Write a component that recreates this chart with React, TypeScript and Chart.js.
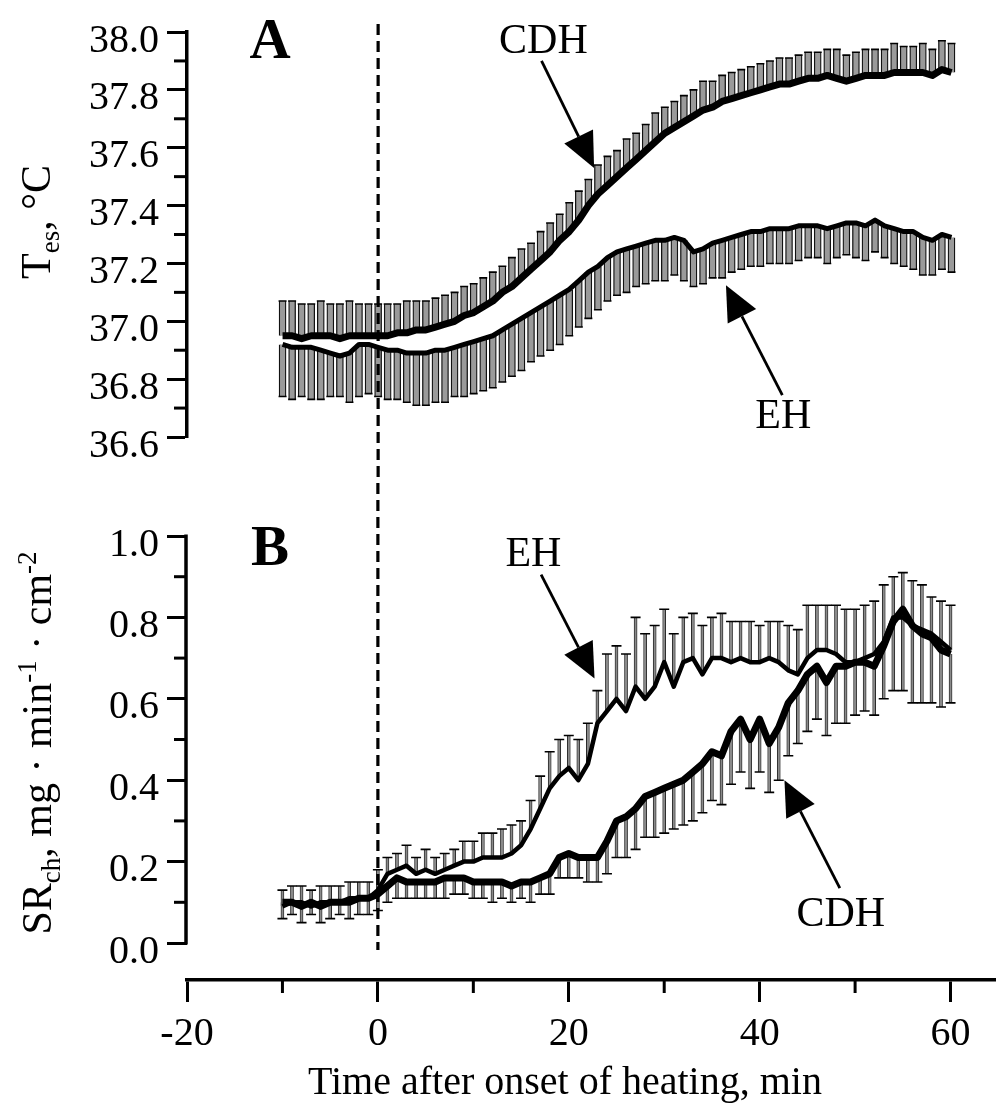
import React, { useEffect, useRef } from "react";
import { Chart, registerables } from "chart.js";

Chart.register(...registerables);

// ---------- data ----------
const TIME = [
  -10, -9, -8, -7, -6, -5, -4, -3, -2, -1,
  0, 1, 2, 3, 4, 5, 6, 7, 8, 9, 10,
  11, 12, 13, 14, 15, 16, 17, 18, 19, 20,
  21, 22, 23, 24, 25, 26, 27, 28, 29, 30,
  31, 32, 33, 34, 35, 36, 37, 38, 39, 40,
  41, 42, 43, 44, 45, 46, 47, 48, 49, 50,
  51, 52, 53, 54, 55, 56, 57, 58, 59, 60,
];

// Panel A: esophageal temperature (°C)
const TES_CDH = [
  36.95, 36.95, 36.94, 36.95, 36.95, 36.95, 36.94, 36.95, 36.95, 36.95,
  36.95, 36.95, 36.96, 36.96, 36.97, 36.97, 36.98, 36.99, 37.0, 37.02, 37.03,
  37.05, 37.07, 37.1, 37.12, 37.15, 37.18, 37.21, 37.24, 37.28, 37.31,
  37.35, 37.4, 37.44, 37.47, 37.5, 37.53, 37.56, 37.59, 37.62, 37.65,
  37.67, 37.69, 37.71, 37.73, 37.74, 37.76, 37.77, 37.78, 37.79, 37.8,
  37.81, 37.82, 37.82, 37.83, 37.84, 37.84, 37.85, 37.84, 37.83, 37.84,
  37.85, 37.85, 37.85, 37.86, 37.86, 37.86, 37.86, 37.85, 37.87, 37.86,
];
const TES_CDH_SE = [
  0.12, 0.12, 0.12, 0.11, 0.12, 0.11, 0.12, 0.12, 0.11, 0.11,
  0.11, 0.11, 0.1, 0.11, 0.1, 0.1, 0.1, 0.1, 0.1, 0.1, 0.1,
  0.1, 0.1, 0.09, 0.1, 0.1, 0.09, 0.1, 0.1, 0.09, 0.1,
  0.1, 0.09, 0.1, 0.1, 0.09, 0.1, 0.09, 0.09, 0.1, 0.09,
  0.09, 0.09, 0.09, 0.1, 0.09, 0.09, 0.09, 0.09, 0.09, 0.09,
  0.09, 0.09, 0.09, 0.09, 0.09, 0.09, 0.09, 0.1, 0.09, 0.09,
  0.09, 0.09, 0.09, 0.1, 0.09, 0.09, 0.1, 0.09, 0.1, 0.1,
];
const TES_EH = [
  36.92, 36.91, 36.91, 36.91, 36.9, 36.89, 36.88, 36.89, 36.92, 36.92,
  36.91, 36.9, 36.9, 36.89, 36.89, 36.89, 36.9, 36.9, 36.91, 36.92, 36.93,
  36.94, 36.95, 36.97, 36.99, 37.01, 37.03, 37.05, 37.07, 37.09, 37.11,
  37.14, 37.17, 37.19, 37.22, 37.24, 37.25, 37.26, 37.27, 37.28, 37.28,
  37.29, 37.28, 37.24, 37.25, 37.27, 37.28, 37.29, 37.3, 37.31, 37.31,
  37.32, 37.32, 37.32, 37.33, 37.33, 37.33, 37.32, 37.33, 37.34, 37.34,
  37.33, 37.35, 37.33, 37.32, 37.31, 37.31, 37.29, 37.28, 37.3, 37.29,
];
const TES_EH_SE = [
  0.18, 0.18, 0.17, 0.18, 0.17, 0.15, 0.14, 0.17, 0.18, 0.17,
  0.17, 0.17, 0.17, 0.17, 0.18, 0.18, 0.18, 0.18, 0.17, 0.18, 0.18,
  0.18, 0.18, 0.18, 0.18, 0.18, 0.17, 0.17, 0.17, 0.17, 0.16,
  0.16, 0.16, 0.15, 0.15, 0.15, 0.15, 0.14, 0.14, 0.14, 0.14,
  0.13, 0.14, 0.12, 0.12, 0.12, 0.13, 0.12, 0.12, 0.12, 0.12,
  0.12, 0.12, 0.12, 0.12, 0.11, 0.11, 0.12, 0.11, 0.11, 0.12,
  0.12, 0.11, 0.11, 0.12, 0.12, 0.13, 0.13, 0.12, 0.12, 0.12,
];

// Panel B: chest sweat rate (mg·min-1·cm-2)
const SR_EH = [
  0.09, 0.1, 0.1, 0.09, 0.1, 0.1, 0.1, 0.11, 0.11, 0.11,
  0.13, 0.17, 0.18, 0.19, 0.17, 0.18, 0.17, 0.18, 0.19, 0.2, 0.2,
  0.21, 0.21, 0.21, 0.22, 0.24, 0.28, 0.33, 0.38, 0.41, 0.43,
  0.4, 0.44, 0.54, 0.57, 0.6, 0.57, 0.63, 0.6, 0.63, 0.69,
  0.63, 0.69, 0.7, 0.66, 0.7, 0.7, 0.69, 0.7, 0.69, 0.69,
  0.7, 0.69, 0.67, 0.66, 0.7, 0.72, 0.72, 0.71, 0.69, 0.69,
  0.7, 0.71, 0.74, 0.8, 0.8, 0.78, 0.77, 0.76, 0.74, 0.72,
];
const SR_EH_SE = [
  0.04, 0.04, 0.04, 0.04, 0.04, 0.04, 0.04, 0.04, 0.04, 0.04,
  0.05, 0.04, 0.04, 0.05, 0.04, 0.05, 0.04, 0.04, 0.04, 0.05, 0.05,
  0.06, 0.06, 0.07, 0.07, 0.06, 0.07, 0.08, 0.09, 0.09, 0.08,
  0.1, 0.1, 0.08, 0.14, 0.13, 0.14, 0.17, 0.16, 0.15, 0.13,
  0.13, 0.11, 0.11, 0.12, 0.1, 0.11, 0.1, 0.09, 0.1, 0.09,
  0.09, 0.1, 0.11, 0.11, 0.13, 0.11, 0.11, 0.12, 0.13, 0.13,
  0.13, 0.13, 0.14, 0.1, 0.11, 0.11, 0.11, 0.09, 0.1, 0.11,
];
const SR_CDH = [
  0.1, 0.1, 0.09, 0.1, 0.09, 0.1, 0.1, 0.1, 0.11, 0.11,
  0.12, 0.14, 0.16, 0.15, 0.15, 0.15, 0.15, 0.16, 0.16, 0.16, 0.15,
  0.15, 0.15, 0.15, 0.14, 0.15, 0.15, 0.16, 0.17, 0.21, 0.22,
  0.21, 0.21, 0.21, 0.25, 0.3, 0.31, 0.33, 0.36, 0.37, 0.38,
  0.39, 0.4, 0.42, 0.44, 0.47, 0.46, 0.52, 0.55, 0.5, 0.55,
  0.49, 0.53, 0.59, 0.62, 0.66, 0.68, 0.64, 0.68, 0.68, 0.69,
  0.69, 0.68, 0.73, 0.79, 0.82, 0.78, 0.76, 0.75, 0.72, 0.71,
];
const SR_CDH_SE = [
  0.04, 0.03, 0.04, 0.03, 0.04, 0.04, 0.03, 0.04, 0.04, 0.04,
  0.04, 0.04, 0.05, 0.04, 0.04, 0.04, 0.04, 0.05, 0.04, 0.04, 0.04,
  0.04, 0.05, 0.04, 0.04, 0.04, 0.05, 0.04, 0.05, 0.05, 0.06,
  0.05, 0.06, 0.06, 0.08, 0.09, 0.1, 0.1, 0.1, 0.11, 0.11,
  0.11, 0.11, 0.12, 0.12, 0.12, 0.12, 0.13, 0.13, 0.12, 0.13,
  0.12, 0.13, 0.13, 0.13, 0.14, 0.13, 0.13, 0.14, 0.14, 0.13,
  0.12, 0.12, 0.13, 0.17, 0.2, 0.19, 0.17, 0.16, 0.14, 0.12,
];

// ticks
const X_TICKS = [-20, 0, 20, 40, 60];
const X_MINOR = [-10, 10, 30, 50];
const TES_TICKS = [36.6, 36.8, 37.0, 37.2, 37.4, 37.6, 37.8, 38.0];
const TES_MINOR = [36.7, 36.9, 37.1, 37.3, 37.5, 37.7, 37.9];
const SR_TICKS = [0.0, 0.2, 0.4, 0.6, 0.8, 1.0];
const SR_MINOR = [0.1, 0.3, 0.5, 0.7, 0.9];

// ---------- layout ----------
const W = 1002;
const TOP_H = 480;
const BOT_H = 634;
const X_MIN = -20;
const X_MAX = 64.7;
const FONT = '"Liberation Serif", "Times New Roman", serif';

type Seg = { t: string; sub?: boolean; sup?: boolean };

function drawRich(ctx: CanvasRenderingContext2D, segs: Seg[], cx: number, cy: number, size: number) {
  ctx.save();
  ctx.translate(cx, cy);
  ctx.rotate(-Math.PI / 2);
  const small = Math.round(size * 0.64);
  let total = 0;
  const widths = segs.map((s) => {
    ctx.font = `${s.sub || s.sup ? small : size}px ${FONT}`;
    const w = ctx.measureText(s.t).width;
    total += w;
    return w;
  });
  let x = -total / 2;
  ctx.textAlign = "left";
  ctx.textBaseline = "alphabetic";
  ctx.fillStyle = "#000";
  const base = size * 0.33;
  segs.forEach((s, i) => {
    ctx.font = `${s.sub || s.sup ? small : size}px ${FONT}`;
    const dy = s.sub ? size * 0.22 : s.sup ? -size * 0.36 : 0;
    ctx.fillText(s.t, x, base + dy);
    x += widths[i];
  });
  ctx.restore();
}

function drawArrow(ctx: CanvasRenderingContext2D, x1: number, y1: number, x2: number, y2: number) {
  const headLen = 35;
  const headHalf = 16;
  const ang = Math.atan2(y2 - y1, x2 - x1);
  const bx = x2 - headLen * Math.cos(ang);
  const by = y2 - headLen * Math.sin(ang);
  ctx.save();
  ctx.strokeStyle = "#000";
  ctx.fillStyle = "#000";
  ctx.lineWidth = 2.8;
  ctx.beginPath();
  ctx.moveTo(x1, y1);
  ctx.lineTo(bx, by);
  ctx.stroke();
  ctx.beginPath();
  ctx.moveTo(x2, y2);
  ctx.lineTo(bx + headHalf * Math.sin(ang), by - headHalf * Math.cos(ang));
  ctx.lineTo(bx - headHalf * Math.sin(ang), by + headHalf * Math.cos(ang));
  ctx.closePath();
  ctx.fill();
  ctx.restore();
}

type Note = { text: string; x: number; y: number };
type Arrow = { x1: number; y1: number; x2: number; y2: number };

type DecorCfg = {
  letter: Note;
  labels: Note[];
  arrows: Arrow[];
  dashFrom: number;
  dashTo: number;
  dashOffset: number;
  yMinor: number[];
  xMinor: number[];
  yLine: [number, number] | null;
  yTitle: { segs: Seg[]; cx: number; cy: number };
  xTitle: { text: string; x: number; yPx: number } | null;
};

function makeDecor(cfg: DecorCfg) {
  return {
    id: "decor",
    afterDatasetsDraw(chart: any) {
      const ctx: CanvasRenderingContext2D = chart.ctx;
      const xs = chart.scales.x;
      const ys = chart.scales.y;
      const area = chart.chartArea;
      ctx.save();

      // dashed onset line at time 0 (drawn as short filled segments)
      const x0 = xs.getPixelForValue(0);
      ctx.fillStyle = "#000";
      for (let y = cfg.dashFrom - cfg.dashOffset; y < cfg.dashTo; y += 17) {
        const a = Math.max(y, cfg.dashFrom);
        const b = Math.min(y + 11, cfg.dashTo);
        if (b > a) ctx.fillRect(x0 - 1.6, a, 3.2, b - a);
      }

      ctx.strokeStyle = "#000";
      // custom y axis line
      if (cfg.yLine) {
        const ya = ys.getPixelForValue(cfg.yLine[1]);
        const yb = ys.getPixelForValue(cfg.yLine[0]);
        ctx.lineWidth = 3.5;
        ctx.beginPath();
        ctx.moveTo(area.left - 1, ya - 1.5);
        ctx.lineTo(area.left - 1, yb + 1.5);
        ctx.stroke();
      }

      // minor ticks
      ctx.lineWidth = 3;
      cfg.yMinor.forEach((v) => {
        const y = ys.getPixelForValue(v);
        ctx.beginPath();
        ctx.moveTo(area.left - 13, y);
        ctx.lineTo(area.left, y);
        ctx.stroke();
      });
      cfg.xMinor.forEach((v) => {
        const x = xs.getPixelForValue(v);
        ctx.beginPath();
        ctx.moveTo(x, area.bottom);
        ctx.lineTo(x, area.bottom + 13);
        ctx.stroke();
      });

      // panel letter
      ctx.fillStyle = "#000";
      ctx.textAlign = "center";
      ctx.textBaseline = "middle";
      ctx.font = `bold 57px ${FONT}`;
      ctx.fillText(cfg.letter.text, xs.getPixelForValue(cfg.letter.x), ys.getPixelForValue(cfg.letter.y));

      // annotation labels and arrows
      ctx.font = `42px ${FONT}`;
      cfg.labels.forEach((n) => {
        ctx.fillText(n.text, xs.getPixelForValue(n.x), ys.getPixelForValue(n.y));
      });
      cfg.arrows.forEach((a) => {
        drawArrow(
          ctx,
          xs.getPixelForValue(a.x1),
          ys.getPixelForValue(a.y1),
          xs.getPixelForValue(a.x2),
          ys.getPixelForValue(a.y2)
        );
      });

      // axis titles
      drawRich(ctx, cfg.yTitle.segs, cfg.yTitle.cx, cfg.yTitle.cy, 42);
      if (cfg.xTitle) {
        ctx.font = `40px ${FONT}`;
        ctx.textAlign = "center";
        ctx.textBaseline = "middle";
        ctx.fillText(cfg.xTitle.text, xs.getPixelForValue(cfg.xTitle.x), cfg.xTitle.yPx);
      }
      ctx.restore();
    },
  };
}

function pts(vals: number[]) {
  return TIME.map((t, i) => ({ x: t, y: vals[i] }));
}
function barPts(vals: number[], se: number[], dir: number) {
  return TIME.map((t, i) => ({
    x: t,
    y: dir > 0 ? [vals[i], vals[i] + se[i]] : [vals[i] - se[i], vals[i]],
  }));
}
function capPts(vals: number[], se: number[], dir: number) {
  return TIME.map((t, i) => ({ x: t, y: vals[i] + dir * se[i] }));
}

function seriesSets(
  mean: number[],
  se: number[],
  dir: number,
  lineW: number,
  barW: number,
  fill: string,
  edge: number,
  capR: number
) {
  return [
    {
      type: "line",
      data: pts(mean),
      borderColor: "#000",
      borderWidth: lineW,
      pointRadius: 0,
      tension: 0,
      borderJoinStyle: "round",
      order: 0,
    },
    {
      type: "line",
      data: capPts(mean, se, dir),
      showLine: false,
      pointStyle: "line",
      pointRadius: capR,
      pointHoverRadius: 0,
      borderColor: "#000",
      borderWidth: 1.6,
      order: 1,
    },
    {
      type: "bar",
      data: barPts(mean, se, dir),
      barThickness: barW,
      grouped: false,
      backgroundColor: fill,
      borderColor: "#111",
      borderWidth: { left: edge, right: edge, top: 0, bottom: 0 },
      borderSkipped: false,
      order: 2,
    },
  ];
}

function yScale(min: number, max: number, ticks: number[], border: boolean) {
  return {
    type: "linear",
    min,
    max,
    beginAtZero: false,
    afterBuildTicks: (s: any) => {
      s.ticks = ticks.map((v) => ({ value: v }));
    },
    afterFit: (s: any) => {
      s.width = 187;
    },
    ticks: {
      autoSkip: false,
      color: "#000",
      font: { family: FONT, size: 40 },
      padding: 8,
      labelOffset: 9,
      callback: (v: any) => Number(v).toFixed(1),
    },
    grid: {
      display: true,
      offset: false,
      drawOnChartArea: false,
      drawTicks: true,
      tickLength: 20,
      tickWidth: 3,
      tickColor: "#000",
    },
    border: { display: border, color: "#000", width: 3.5 },
  };
}

function topConfig(): any {
  return {
    type: "line",
    data: {
      datasets: [
        ...seriesSets(TES_CDH, TES_CDH_SE, 1, 7, 7, "#9a9a9a", 1.3, 4),
        ...seriesSets(TES_EH, TES_EH_SE, -1, 5, 7, "#9a9a9a", 1.3, 4),
      ],
    },
    options: {
      responsive: false,
      animation: false,
      devicePixelRatio: 1,
      layout: { padding: { top: 32, bottom: TOP_H - 437, left: 0, right: 0 } },
      plugins: { legend: { display: false }, tooltip: { enabled: false } },
      scales: {
        x: {
          type: "linear",
          display: false,
          min: X_MIN,
          max: X_MAX,
          offset: false,
          grid: { offset: false },
        },
        y: yScale(36.6, 38.0, TES_TICKS, true),
      },
    },
    plugins: [
      makeDecor({
        letter: { text: "A", x: -11.3, y: 37.96 },
        labels: [
          { text: "CDH", x: 17.3, y: 37.965 },
          { text: "EH", x: 42.4, y: 36.67 },
        ],
        arrows: [
          { x1: 17.1, y1: 37.9, x2: 22.6, y2: 37.53 },
          { x1: 42.3, y1: 36.745, x2: 36.4, y2: 37.125 },
        ],
        dashFrom: 24,
        dashTo: TOP_H,
        dashOffset: 0,
        yMinor: TES_MINOR,
        xMinor: [],
        yLine: null,
        yTitle: {
          segs: [{ t: "T" }, { t: "es", sub: true }, { t: ", °C" }],
          cx: 36,
          cy: 222,
        },
        xTitle: null,
      }),
    ],
  };
}

function botConfig(): any {
  return {
    type: "line",
    data: {
      datasets: [
        ...seriesSets(SR_CDH, SR_CDH_SE, -1, 7, 3, "#8a8a8a", 0.8, 5),
        ...seriesSets(SR_EH, SR_EH_SE, 1, 4.5, 3, "#8a8a8a", 0.8, 5),
      ],
    },
    options: {
      responsive: false,
      animation: false,
      devicePixelRatio: 1,
      layout: { padding: { top: 536 - TOP_H, bottom: 0, left: 0, right: 0 } },
      plugins: { legend: { display: false }, tooltip: { enabled: false } },
      scales: {
        x: {
          type: "linear",
          min: X_MIN,
          max: X_MAX,
          offset: false,
          afterBuildTicks: (s: any) => {
            s.ticks = X_TICKS.map((v) => ({ value: v }));
          },
          afterFit: (s: any) => {
            s.height = BOT_H - (980 - TOP_H);
            s.paddingLeft = 0;
            s.paddingRight = 0;
          },
          ticks: {
            autoSkip: false,
            maxRotation: 0,
            color: "#000",
            font: { family: FONT, size: 40 },
            padding: 8,
            callback: (v: any) => String(v),
          },
          grid: {
            display: true,
            offset: false,
            drawOnChartArea: false,
            drawTicks: true,
            tickLength: 22,
            tickWidth: 3,
            tickColor: "#000",
          },
          border: { display: true, color: "#000", width: 3.5 },
        },
        y: yScale(-0.0909, 1.0, SR_TICKS, false),
      },
    },
    plugins: [
      makeDecor({
        letter: { text: "B", x: -11.3, y: 0.965 },
        labels: [
          { text: "EH", x: 16.3, y: 0.953 },
          { text: "CDH", x: 48.5, y: 0.069 },
        ],
        arrows: [
          { x1: 17.1, y1: 0.905, x2: 22.7, y2: 0.65 },
          { x1: 48.4, y1: 0.135, x2: 42.6, y2: 0.4 },
        ],
        dashFrom: 0,
        dashTo: 950 - TOP_H,
        dashOffset: (TOP_H - 24) % 17,
        yMinor: SR_MINOR,
        xMinor: X_MINOR,
        yLine: [0, 1.0],
        yTitle: {
          segs: [
            { t: "SR" },
            { t: "ch", sub: true },
            { t: ", mg · min" },
            { t: "-1", sup: true },
            { t: " · cm" },
            { t: "-2", sup: true },
          ],
          cx: 37,
          cy: 743 - TOP_H,
        },
        xTitle: { text: "Time after onset of heating, min", x: 19.6, yPx: 1083 - TOP_H },
      }),
    ],
  };
}

export default function App() {
  const topRef = useRef<HTMLCanvasElement>(null);
  const botRef = useRef<HTMLCanvasElement>(null);

  useEffect(() => {
    if (!topRef.current || !botRef.current) return;
    const c1 = new Chart(topRef.current, topConfig());
    const c2 = new Chart(botRef.current, botConfig());
    return () => {
      c1.destroy();
      c2.destroy();
    };
  }, []);

  return (
    <div style={{ position: "absolute", left: 0, top: 0, width: W, height: 1114, background: "#fff" }}>
      <canvas ref={topRef} width={W} height={TOP_H} style={{ position: "absolute", left: 0, top: 0 }} />
      <canvas ref={botRef} width={W} height={BOT_H} style={{ position: "absolute", left: 0, top: TOP_H }} />
    </div>
  );
}
